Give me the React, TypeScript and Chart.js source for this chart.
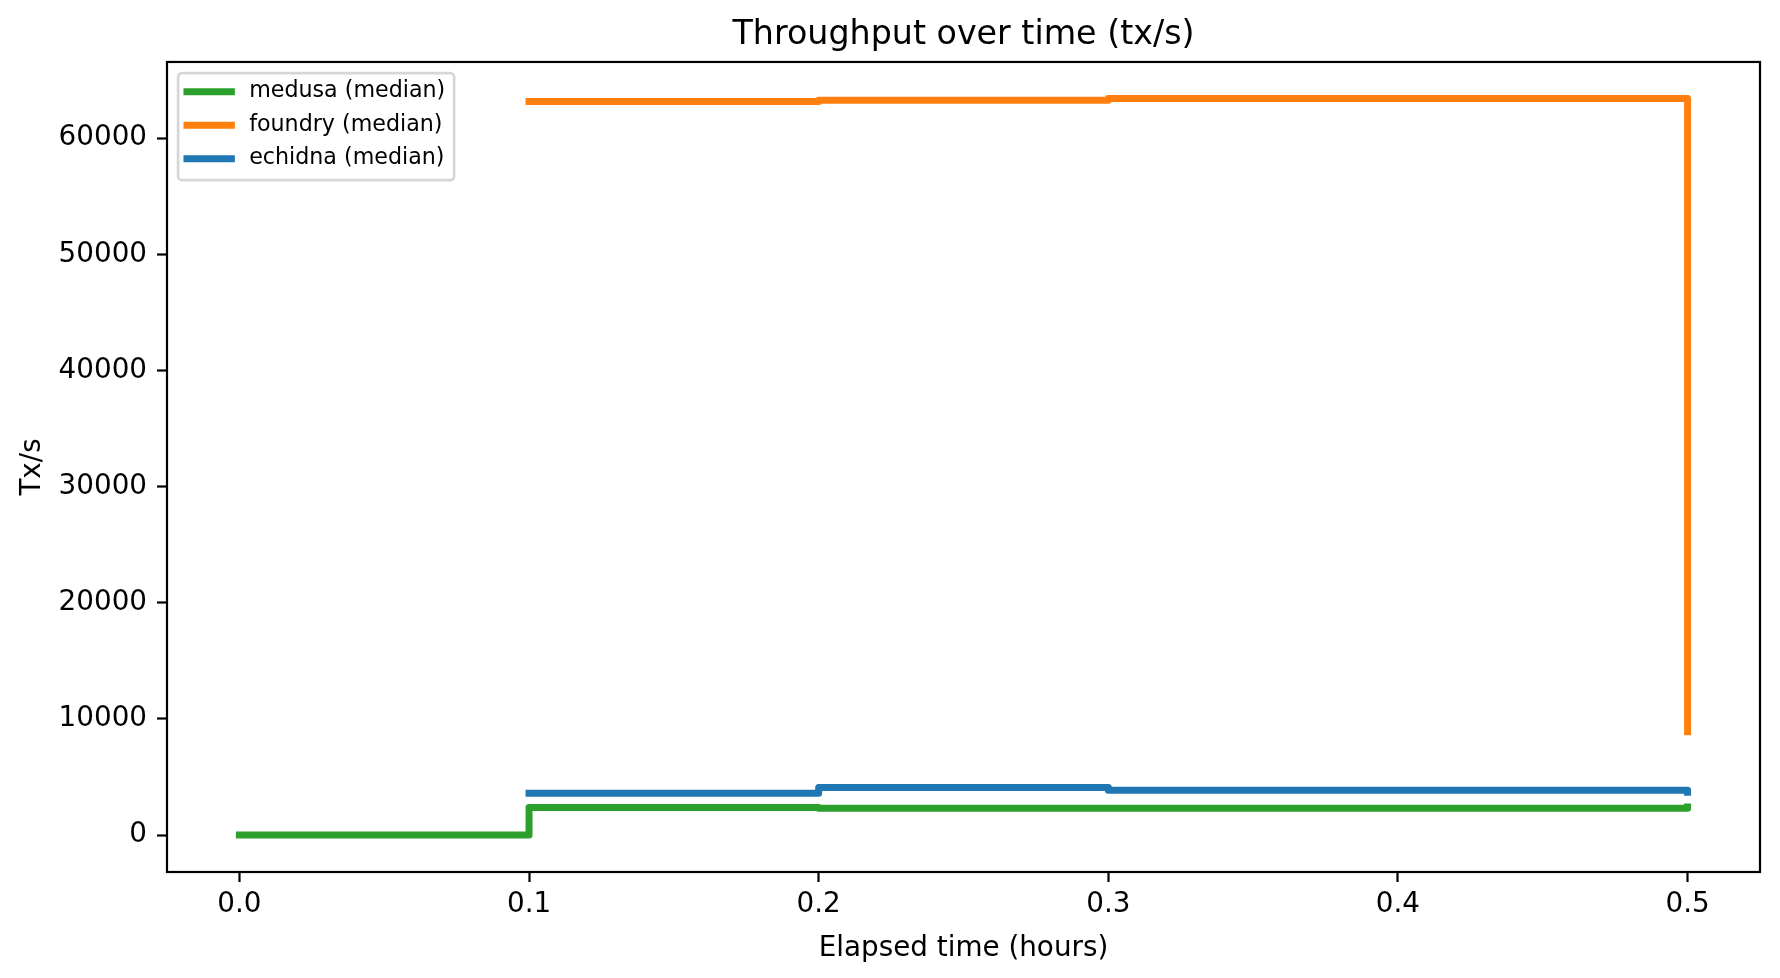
import { useEffect, useRef } from 'react';
import { Chart, registerables } from 'chart.js';

Chart.register(...registerables);

const FONT = "'DejaVu Sans', sans-serif";
Chart.defaults.font.family = FONT;
Chart.defaults.color = '#000';

// elapsed time (hours) and median throughput (tx/s) per fuzzer
const timeHours = [0.0, 0.1, 0.2, 0.3, 0.4, 0.5];
const medusaTps = [0, 2380, 2300, 2300, 2300, 2420];
const foundryTps = [null, 63150, 63270, 63420, 63420, 8900];
const echidnaTps = [null, 3590, 4100, 3850, 3850, 3680];

const xTicks = [0.0, 0.1, 0.2, 0.3, 0.4, 0.5];
const yTicks = [0, 10000, 20000, 30000, 40000, 50000, 60000];

const toPoints = (ys: (number | null)[]) => timeHours.map((x, i) => ({ x, y: ys[i] }));

// draws the four axes spines
const framePlugin = {
  id: 'axesFrame',
  afterDatasetsDraw(chart: any) {
    const { ctx, chartArea: a } = chart;
    ctx.save();
    ctx.strokeStyle = '#000';
    ctx.lineWidth = 2.2;
    ctx.strokeRect(a.left, a.top, a.right - a.left, a.bottom - a.top);
    ctx.restore();
  },
};

// matplotlib-style legend in the upper left of the plot area
const innerLegend = {
  id: 'innerLegend',
  afterDraw(chart: any) {
    const { ctx, chartArea: a } = chart;
    const fs = 22.2;
    const axesPad = fs * 0.5;
    const borderPad = fs * 0.4;
    const handleLen = fs * 2;
    const textPad = fs * 0.8;
    const rowH = 22.4;
    const spacing = fs * 0.5;
    const sets = chart.data.datasets;
    ctx.save();
    ctx.font = `${fs}px ${FONT}`;
    const textW = Math.max(...sets.map((d: any) => ctx.measureText(d.label).width));
    const x0 = a.left + axesPad;
    const y0 = a.top + axesPad;
    const w = borderPad * 2 + handleLen + textPad + textW;
    const h = borderPad * 2 + rowH * sets.length + spacing * (sets.length - 1);
    ctx.beginPath();
    ctx.roundRect(x0, y0, w, h, 4);
    ctx.fillStyle = 'rgba(255,255,255,0.8)';
    ctx.fill();
    ctx.strokeStyle = '#d6d6d6';
    ctx.lineWidth = 2.7;
    ctx.stroke();
    sets.forEach((d: any, i: number) => {
      const cy = y0 + borderPad + rowH / 2 + i * (rowH + spacing) - 1.5;
      ctx.beginPath();
      ctx.lineCap = 'square';
      ctx.strokeStyle = d.borderColor;
      ctx.lineWidth = 7;
      ctx.moveTo(x0 + borderPad, cy);
      ctx.lineTo(x0 + borderPad + handleLen, cy);
      ctx.stroke();
      ctx.fillStyle = '#000';
      ctx.textBaseline = 'middle';
      ctx.textAlign = 'left';
      ctx.fillText(d.label, x0 + borderPad + handleLen + textPad, cy);
    });
    ctx.restore();
  },
};

export default function App() {
  const canvasRef = useRef<HTMLCanvasElement | null>(null);

  useEffect(() => {
    if (!canvasRef.current) return;
    const line = (label: string, ys: (number | null)[], color: string, order: number) => ({
      label,
      data: toPoints(ys),
      borderColor: color,
      backgroundColor: color,
      borderWidth: 7,
      // value held until the next sample (matplotlib where="post")
      stepped: 'before' as const,
      pointRadius: 0,
      borderJoinStyle: 'round' as const,
      borderCapStyle: 'square' as const,
      spanGaps: false,
      order,
    });
    const chart = new Chart(canvasRef.current, {
      type: 'line',
      data: {
        datasets: [
          line('medusa (median)', medusaTps, '#2ca02c', 2),
          line('foundry (median)', foundryTps, '#ff7f0e', 1),
          line('echidna (median)', echidnaTps, '#1f77b4', 0),
        ],
      },
      options: {
        animation: false,
        responsive: false,
        devicePixelRatio: 1,
        layout: { padding: { left: 0, right: 20, top: 0, bottom: 0 } },
        plugins: {
          legend: { display: false },
          tooltip: { enabled: false },
          title: {
            display: true,
            text: 'Throughput over time (tx/s)',
            fullSize: false,
            color: '#000',
            font: { size: 33.3, weight: 'normal', family: FONT, lineHeight: 1.2 },
            padding: { top: 15, bottom: 7 },
          },
        },
        scales: {
          x: {
            type: 'linear',
            min: -0.025,
            max: 0.525,
            afterBuildTicks: (scale: any) => {
              scale.ticks = xTicks.map((v) => ({ value: v }));
            },
            afterFit: (scale: any) => {
              scale.height = 106;
            },
            ticks: {
              autoSkip: false,
              maxRotation: 0,
              padding: 6,
              color: '#000',
              font: { size: 27.8, family: FONT },
              callback: (v: any) => Number(v).toFixed(1),
            },
            grid: {
              drawOnChartArea: false,
              drawTicks: true,
              tickLength: 10,
              tickWidth: 2.2,
              tickColor: '#000',
            },
            border: { display: false },
            title: {
              display: true,
              text: 'Elapsed time (hours)',
              color: '#000',
              font: { size: 27.8, family: FONT, lineHeight: 1.2 },
              padding: { top: 0, bottom: 13 },
            },
          },
          y: {
            type: 'linear',
            min: -3180,
            max: 66560,
            afterBuildTicks: (scale: any) => {
              scale.ticks = yTicks.map((v) => ({ value: v }));
            },
            afterFit: (scale: any) => {
              scale.width = 167;
            },
            ticks: {
              autoSkip: false,
              padding: 10,
              color: '#000',
              font: { size: 27.8, family: FONT },
              callback: (v: any) => String(v),
            },
            grid: {
              drawOnChartArea: false,
              drawTicks: true,
              tickLength: 10,
              tickWidth: 2.2,
              tickColor: '#000',
            },
            border: { display: false },
            title: {
              display: true,
              text: 'Tx/s',
              color: '#000',
              font: { size: 27.8, family: FONT, lineHeight: 1.2 },
              padding: { top: 16, bottom: 0 },
            },
          },
        },
      },
      plugins: [framePlugin, innerLegend],
    });
    return () => chart.destroy();
  }, []);

  return (
    <div style={{ position: 'absolute', left: 0, top: 0, width: 1780, height: 978, background: '#fff' }}>
      <canvas ref={canvasRef} width={1780} height={978} style={{ width: 1780, height: 978 }} />
    </div>
  );
}
